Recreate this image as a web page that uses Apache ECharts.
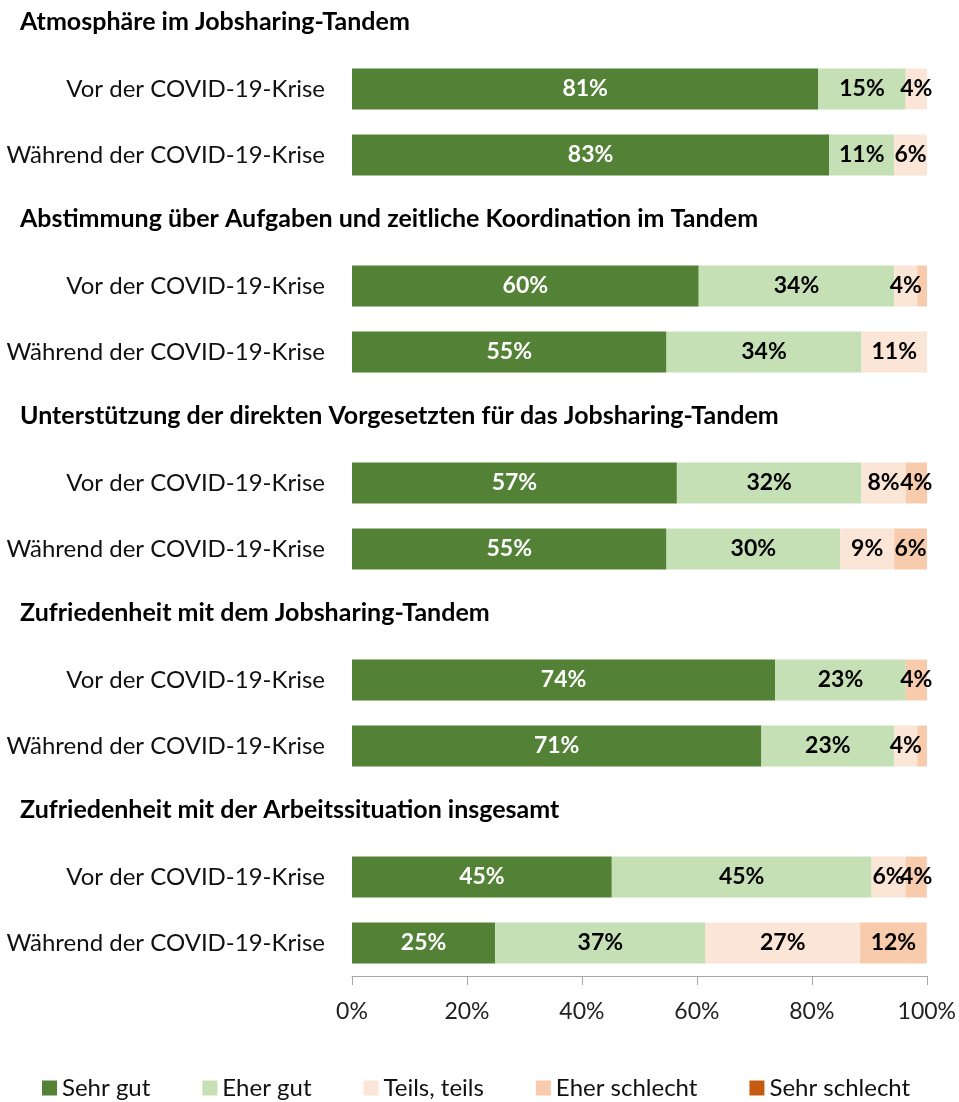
<!DOCTYPE html>
<html>
<head>
<meta charset="utf-8">
<script src="https://cdn.jsdelivr.net/npm/echarts@6/dist/echarts.min.js"></script>
<style>
  html, body { margin: 0; padding: 0; background: #fff; }
  #panel { width: 959px; height: 1102px; }
</style>
</head>
<body>
<div id="panel"></div>
<script>
var groupTitles = [
    'Atmosphäre im Jobsharing-Tandem',
    'Abstimmung über Aufgaben und zeitliche Koordination im Tandem',
    'Unterstützung der direkten Vorgesetzten für das Jobsharing-Tandem',
    'Zufriedenheit mit dem Jobsharing-Tandem',
    'Zufriedenheit mit der Arbeitssituation insgesamt'
];
var categories = ['Vor der COVID-19-Krise', 'Während der COVID-19-Krise'];

// je zwei Werte pro Gruppe (vor / während), in Prozent
var sehrGut      = [81.1, 83.0, 60.3, 54.7, 56.5, 54.7, 73.6, 71.2, 45.2, 24.9];
var eherGut      = [15.2, 11.3, 34.0, 33.9, 32.1, 30.2, 22.7, 23.1, 45.2, 36.6];
var teilsTeils   = [3.7, 5.7, 4.0, 11.4, 7.7, 9.4, 0, 4.0, 5.9, 26.9];
var eherSchlecht = [0, 0, 1.7, 0, 3.7, 5.7, 3.7, 1.7, 3.7, 11.6];
var sehrSchlecht = [0, 0, 0, 0, 0, 0, 0, 0, 0, 0];

var seriesNames = ['Sehr gut', 'Eher gut', 'Teils, teils', 'Eher schlecht', 'Sehr schlecht'];
var seriesValues = [sehrGut, eherGut, teilsTeils, eherSchlecht, sehrSchlecht];
var seriesColors = ['#538135', '#C5E0B4', '#FBE5D6', '#F8CBAD', '#C55A11'];
var labelColors = ['#fff', '#000', '#000', '#000', '#fff'];

var FONT = 'Lato';
var myChart;

function buildOption()
{
    var grids = [], xAxes = [], yAxes = [], titles = [], series = [];
    var last = groupTitles.length - 1;
    for (var g = 0; g < groupTitles.length; g++)
    {
        var top = 56 + g * 197;
        grids.push({ left: 352, right: 32, top: top, height: 132 });
        titles.push({
            text: groupTitles[g],
            left: 20,
            top: top - 49,
            padding: 0,
            textStyle: { fontFamily: FONT, fontSize: 25, fontWeight: 'bold', color: '#000', lineHeight: 30 }
        });
        xAxes.push({
            type: 'value',
            gridIndex: g,
            min: 0,
            max: 100,
            interval: 20,
            show: g === last,
            axisLine: { show: true, lineStyle: { color: '#A6A6A6', width: 1 } },
            axisTick: { show: true, length: 9, lineStyle: { color: '#A6A6A6' } },
            axisLabel: { fontFamily: FONT, fontSize: 23, color: '#222', margin: 24, formatter: '{value}%' },
            splitLine: { show: false }
        });
        yAxes.push({
            type: 'category',
            gridIndex: g,
            inverse: true,
            data: categories,
            axisLine: { show: false },
            axisTick: { show: false },
            axisLabel: { fontFamily: FONT, fontSize: 24, color: '#111', margin: 27 }
        });
        for (var s = 0; s < seriesNames.length; s++)
        {
            var vals = seriesValues[s].slice(g * 2, g * 2 + 2).map(function(v) { return v > 0 ? v : '-'; });
            series.push({
                name: seriesNames[s],
                type: 'bar',
                stack: 'g' + g,
                xAxisIndex: g,
                yAxisIndex: g,
                barCategoryGap: '38%',
                data: vals,
                itemStyle: { color: seriesColors[s] },
                label: {
                    show: true,
                    position: 'inside',
                    fontFamily: FONT,
                    fontSize: 23,
                    fontWeight: 'bold',
                    color: labelColors[s],
                    formatter: function(p) { return p.value >= 3 ? Math.round(p.value) + '%' : ''; }
                },
                emphasis: { disabled: true },
                animation: false
            });
        }
    }
    return {
        backgroundColor: '#fff',
        title: titles,
        grid: grids,
        xAxis: xAxes,
        yAxis: yAxes,
        legend: {
            data: seriesNames,
            left: 42,
            top: 1076,
            padding: 0,
            icon: 'rect',
            itemWidth: 15,
            itemHeight: 15,
            itemGap: 52,
            textStyle: { fontFamily: FONT, fontSize: 24, color: '#111' }
        },
        series: series
    };
}

myChart = echarts.init(document.getElementById('panel'));
myChart.setOption(buildOption());
</script>
</body>
</html>
